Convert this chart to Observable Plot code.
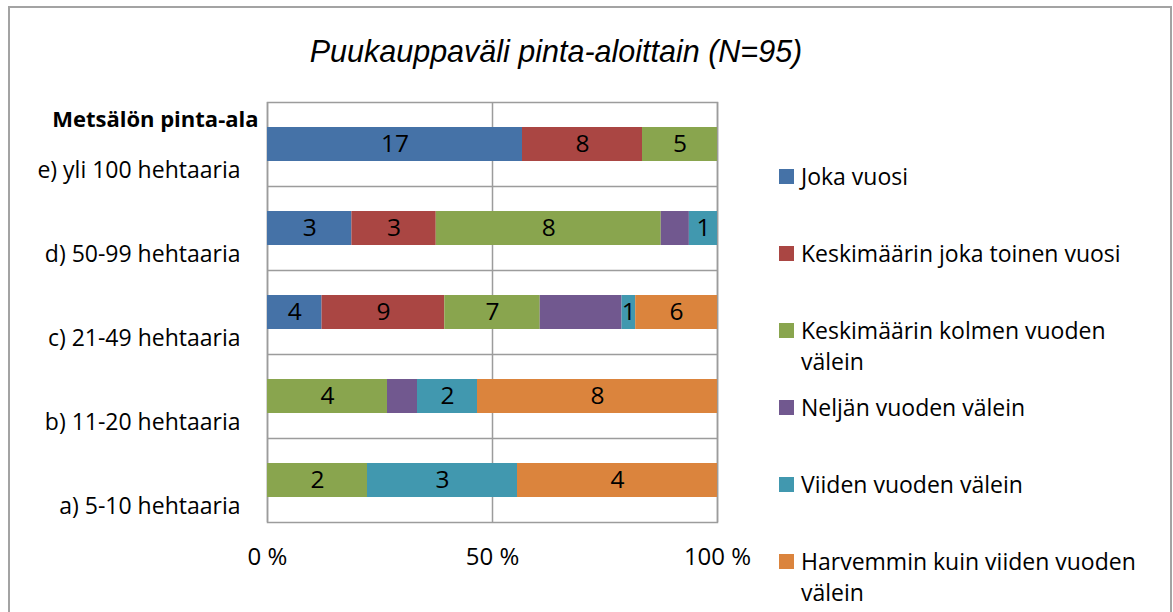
<!DOCTYPE html>
<html>
<head>
<meta charset="utf-8">
<script src="https://cdn.jsdelivr.net/npm/d3@7"></script>
<script src="https://cdn.jsdelivr.net/npm/@observablehq/plot@0.6"></script>
<style>
  body { margin: 0; background: #fff; }
  #wrap { position: relative; width: 1173px; height: 612px; overflow: hidden; background: #fff; }
  #border { position: absolute; left: 8px; top: 6px; width: 1164px; height: 700px; border: 2px solid #a3a3a3; box-sizing: border-box; }
  #title { position: absolute; left: 0; top: 36px; width: 1112px; text-align: center; font: italic 30.5px/30.5px "Liberation Sans", Arial, sans-serif; color: #000; white-space: nowrap; }
  #chart { position: absolute; left: 0; top: 0; }
  #legend { position: absolute; left: 779px; top: 161px; }
  .item { position: absolute; left: 0; width: 345px; padding-left: 22px; font: 23px/31px "Open Sans", sans-serif; color: #000; }
  .sw { position: absolute; left: 0; top: 8px; width: 15px; height: 15px; }
</style>
</head>
<body>
<div id="wrap">
  <div id="border"></div>
  <div id="chart"></div>
  <div id="title"></div>
  <div id="legend"></div>
</div>
<script>
const chartTitle = "Puukauppaväli pinta-aloittain (N=95)";
const yTitle = "Metsälön pinta-ala";
const categories = ["e) yli 100 hehtaaria", "d) 50-99 hehtaaria", "c) 21-49 hehtaaria", "b) 11-20 hehtaaria", "a) 5-10 hehtaaria"];
const seriesNames = ["Joka vuosi", "Keskimäärin joka toinen vuosi", "Keskimäärin kolmen vuoden välein", "Neljän vuoden välein", "Viiden vuoden välein", "Harvemmin kuin viiden vuoden välein"];
const jokaVuosi      = [17, 3, 4, 0, 0];
const jokaToinen     = [8, 3, 9, 0, 0];
const kolmenVuoden   = [5, 8, 7, 4, 2];
const neljanVuoden   = [0, 1, 6, 1, 0];
const viidenVuoden   = [0, 1, 1, 2, 3];
const harvemmin      = [0, 0, 6, 8, 4];
const unlabelledSeries = ["Neljän vuoden välein"];
const xTicks = [0, 0.5, 1];
const xTickLabels = ["0 %", "50 %", "100 %"];
const colors = ["#4572A7", "#AA4643", "#89A54E", "#71588F", "#4198AF", "#DB843D"];

const seriesValues = [jokaVuosi, jokaToinen, kolmenVuoden, neljanVuoden, viidenVuoden, harvemmin];
const rows = [];
seriesNames.forEach((s, i) => categories.forEach((c, j) => {
  if (seriesValues[i][j] > 0) rows.push({category: c, series: s, value: seriesValues[i][j]});
}));

document.getElementById("title").textContent = chartTitle;

const W = 1173, H = 612, mT = 102, mB = 90, mL = 267, mR = 456;
const step = (H - mT - mB) / categories.length;
const lineColor = "#9c9c9c";

const stackOpts = {x: "value", y: "category", z: "series", offset: "normalize", order: seriesNames};

const plot = Plot.plot({
  width: W, height: H,
  marginTop: mT, marginBottom: mB, marginLeft: mL, marginRight: mR,
  style: {fontFamily: "'Open Sans', sans-serif", fontSize: "22px", color: "#000", background: "transparent", overflow: "visible"},
  x: {domain: [0, 1], label: null},
  y: {domain: categories, paddingInner: 0.595, paddingOuter: 0.2975, label: null},
  color: {domain: seriesNames, range: colors},
  marks: [
    Plot.gridX(xTicks, {stroke: lineColor, strokeOpacity: 1, strokeWidth: 1.5}),
    Plot.ruleY(categories.slice(0, -1), {dy: step / 2, stroke: lineColor, strokeWidth: 1.5}),
    Plot.frame({stroke: lineColor, strokeWidth: 1.5}),
    Plot.barX(rows, Plot.stackX({...stackOpts, fill: "series"})),
    Plot.text(rows, Plot.stackX({...stackOpts,
      text: d => unlabelledSeries.includes(d.series) ? null : String(d.value),
      fill: "#000", fontSize: 24.5})),
    Plot.axisY({tickSize: 0, tickPadding: 27, dy: 26, fontSize: 23, label: null}),
    Plot.axisX(xTicks, {tickSize: 0, tickPadding: 25, fontSize: 24, label: null,
      tickFormat: d => xTickLabels[xTicks.indexOf(d)]}),
    Plot.text([yTitle], {text: d => d, frameAnchor: "top-left", textAnchor: "end", lineAnchor: "middle",
      dx: -9, dy: 17, fontWeight: "bold", fontSize: 22})
  ]
});
document.getElementById("chart").appendChild(plot);

const color = plot.scale("color");
const legend = document.getElementById("legend");
color.domain.forEach((name, i) => {
  const item = document.createElement("div");
  item.className = "item";
  item.style.top = (i * 77) + "px";
  const sw = document.createElement("span");
  sw.className = "sw";
  sw.style.background = color.range[i];
  item.appendChild(sw);
  item.appendChild(document.createTextNode(name));
  legend.appendChild(item);
});
</script>
</body>
</html>
